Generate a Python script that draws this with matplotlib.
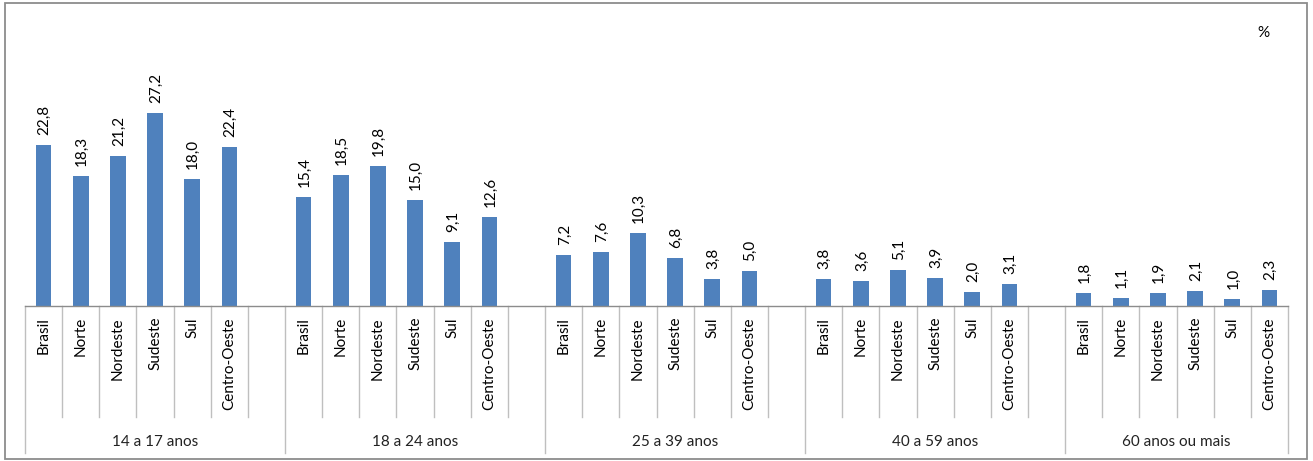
import matplotlib
matplotlib.use("Agg")
import matplotlib.pyplot as plt
from matplotlib.patches import Rectangle

plt.rcParams['font.family'] = ['Lato', 'DejaVu Sans']

regions = ["Brasil", "Norte", "Nordeste", "Sudeste", "Sul", "Centro-Oeste"]
age_groups = ["14 a 17 anos", "18 a 24 anos", "25 a 39 anos", "40 a 59 anos", "60 anos ou mais"]
v_14_17 = [22.8, 18.3, 21.2, 27.2, 18.0, 22.4]
v_18_24 = [15.4, 18.5, 19.8, 15.0, 9.1, 12.6]
v_25_39 = [7.2, 7.6, 10.3, 6.8, 3.8, 5.0]
v_40_59 = [3.8, 3.6, 5.1, 3.9, 2.0, 3.1]
v_60 = [1.8, 1.1, 1.9, 2.1, 1.0, 2.3]
series = [v_14_17, v_18_24, v_25_39, v_40_59, v_60]

W, H = 1313, 461
fig = plt.figure(figsize=(W / 100, H / 100), dpi=100)
fig.patch.set_facecolor('white')

# outer border
fig.add_artist(Rectangle((5 / W, 1 - 459 / H), (1307 - 5) / W, (459 - 3) / H,
                         transform=fig.transFigure, fill=False,
                         edgecolor='#8c8c8c', linewidth=1.3))

ax_top, ax_bot = 23, 306
ax = fig.add_axes([25 / W, 1 - ax_bot / H, (1288 - 25) / W, (ax_bot - ax_top) / H])
ax_h = ax_bot - ax_top

# build positions (blank slot after each group except last)
xs, vals, labels, group_bounds = [], [], [], [-0.5]
pos = 0
for gi, vs in enumerate(series):
    start = pos
    for r, v in zip(regions, vs):
        xs.append(pos)
        vals.append(v)
        labels.append(r)
        pos += 1
    if gi < len(series) - 1:
        pos += 1
    group_bounds.append(pos - 0.5)
n_slots = pos

ax.bar(xs, vals, width=0.42, color='#4F81BD', zorder=2)
ax.set_xlim(-0.5, n_slots - 0.5)
ax.set_ylim(0, ax_h / 7.08)

for sp in ['top', 'right', 'left']:
    ax.spines[sp].set_visible(False)
ax.spines['bottom'].set_color('#8c8c8c')
ax.spines['bottom'].set_linewidth(1.0)
ax.set_xticks([])
ax.set_yticks([])

trans = ax.get_xaxis_transform()
y_tick = -(417 - ax_bot) / ax_h
y_group = -(453 - ax_bot) / ax_h
for i in range(1, n_slots):
    b = i - 0.5
    if b in group_bounds:
        continue
    ax.plot([b, b], [0, y_tick], transform=trans, color='#bfbfbf', lw=1.0, clip_on=False)
for b in group_bounds:
    ax.plot([b, b], [0, y_group], transform=trans, color='#bfbfbf', lw=1.0, clip_on=False)

for x, v, lab in zip(xs, vals, labels):
    ax.annotate(f"{v:.1f}".replace('.', ','), (x, v), xytext=(1, 10),
                textcoords='offset pixels', rotation=90, ha='center', va='bottom',
                fontsize=11, color='black')
    ax.text(x, -(11 / ax_h), lab, transform=trans, rotation=90, ha='center', va='top',
            fontsize=11, color='black')

for gi, g in enumerate(age_groups):
    c = (group_bounds[gi] + group_bounds[gi + 1]) / 2
    ax.text(c, -(442 - ax_bot) / ax_h, g, transform=trans, ha='center', va='center',
            fontsize=11, color='#222222')

fig.text(1263 / W, 1 - 33 / H, '%', ha='center', va='center', fontsize=11, color='black')

fig.savefig('out.png', dpi=100)
